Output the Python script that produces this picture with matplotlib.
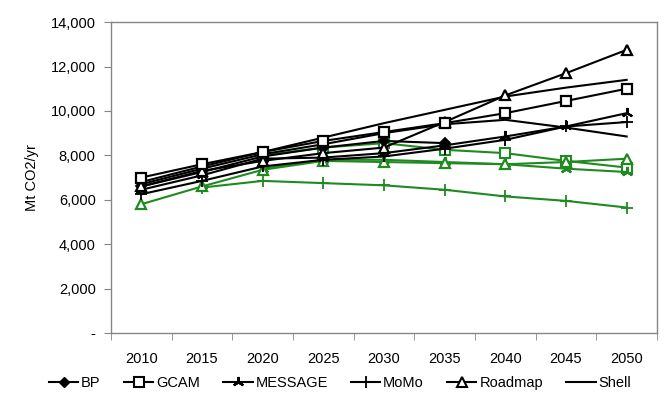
import numpy as np
import matplotlib
matplotlib.use("Agg")
import matplotlib.pyplot as plt
from matplotlib.lines import Line2D
from matplotlib.ticker import FuncFormatter, FixedLocator

nan = np.nan

# ----------------------------
# Data (Mt CO2/yr)
# ----------------------------
years = ["2010", "2015", "2020", "2025", "2030", "2035", "2040", "2045", "2050"]

# black = first scenario set
bp      = [6600, 7250, 7950, 8350, 8650, 8550, nan, nan, nan]
gcam    = [7000, 7600, 8150, 8650, 9050, 9450, 9900, 10450, 11000]
message = [6450, 7100, 7850, 7900, 8100, 8450, 8850, 9300, 9900]
momo    = [6250, 6850, 7500, 7800, 7950, 8300, 8700, 9300, 9500]
roadmap = [6600, 7300, 7750, 8100, 8350, 9500, 10700, 11700, 12750]
shell_a = [6800, 7500, 8150, 8800, 9450, 10050, 10650, 11050, 11400]
shell_b = [6700, 7400, 8050, 8500, 9000, 9400, 9600, 9250, 8850]

# green = low-carbon scenario set
gcam_g    = [nan, nan, 8000, 8350, 8550, 8250, 8100, 7750, 7450]
message_g = [nan, nan, 7400, 7800, 7800, 7700, 7600, 7400, 7250]
momo_g    = [nan, 6550, 6850, 6750, 6650, 6450, 6150, 5950, 5650]
roadmap_g = [5800, 6600, 7350, 7750, 7700, 7650, 7600, 7700, 7850]

plt.rcParams["font.family"] = ["Liberation Sans", "DejaVu Sans"]

BLACK = "#000000"
GREEN = "#1f8a1f"
star = (3, 2, 0)

fig = plt.figure(figsize=(6.67, 4.08), dpi=100)
ax = fig.add_axes([0.1664, 0.1838, 0.8186, 0.762])

x = np.arange(len(years))

def draw(vals, color, marker, ms, mfc, z=3, mew=1.3):
    ax.plot(x, vals, color=color, lw=1.5, marker=marker, ms=ms,
            mfc=mfc, mec=color, mew=mew, zorder=z)

# green set (drawn first, below)
draw(gcam_g, GREEN, "s", 6.5, "white", z=2, mew=1.5)
draw(message_g, GREEN, star, 8, GREEN, z=2, mew=1.6)
draw(momo_g, GREEN, "+", 8, GREEN, z=2)
draw(roadmap_g, GREEN, "^", 6.5, "white", z=2, mew=1.6)

# black set
draw(shell_a, BLACK, None, 0, BLACK)
draw(shell_b, BLACK, None, 0, BLACK)
draw(momo, BLACK, "+", 8, BLACK)
draw(message, BLACK, star, 8, BLACK, mew=1.6)
draw(bp, BLACK, "D", 5.5, BLACK)
draw(roadmap, BLACK, "^", 6.5, "white", mew=1.6)
draw(gcam, BLACK, "s", 6.5, "white", mew=1.6)

ax.set_xlim(-0.5, len(years) - 0.5)
ax.set_ylim(0, 14000)
ax.set_yticks(np.arange(0, 14001, 2000))
ax.yaxis.set_major_formatter(FuncFormatter(lambda v, p: "-" if v == 0 else f"{int(v):,}"))
ax.set_xticks(x)
ax.set_xticklabels(years)
ax.xaxis.set_minor_locator(FixedLocator(np.arange(-0.5, len(years), 1.0)))
ax.tick_params(axis="x", which="major", length=0, pad=14, labelsize=10.5)
ax.tick_params(axis="x", which="minor", length=5, color="#868686", direction="out")
ax.tick_params(axis="y", length=5, color="#868686", direction="out", labelsize=10.5, pad=6)

for s in ax.spines.values():
    s.set_color("#868686")
    s.set_linewidth(1.0)

ax.set_ylabel("Mt CO2/yr", fontsize=10.5, labelpad=8)

handles = [
    Line2D([], [], color=BLACK, lw=1.5, marker="D", ms=5.5, mfc=BLACK, label="BP"),
    Line2D([], [], color=BLACK, lw=1.5, marker="s", ms=6.5, mfc="white", mew=1.5, label="GCAM"),
    Line2D([], [], color=BLACK, lw=1.5, marker=star, ms=8, mew=1.6, label="MESSAGE"),
    Line2D([], [], color=BLACK, lw=1.5, marker="+", ms=8, mew=1.3, label="MoMo"),
    Line2D([], [], color=BLACK, lw=1.5, marker="^", ms=6.5, mfc="white", mew=1.5, label="Roadmap"),
    Line2D([], [], color=BLACK, lw=1.5, label="Shell"),
]
fig.legend(handles=handles, loc="center", bbox_to_anchor=(0.51, 0.061), ncol=6,
           frameon=False, fontsize=10.5, handlelength=2.0, handletextpad=0.2,
           columnspacing=1.6)

fig.savefig("out.png", dpi=100)
